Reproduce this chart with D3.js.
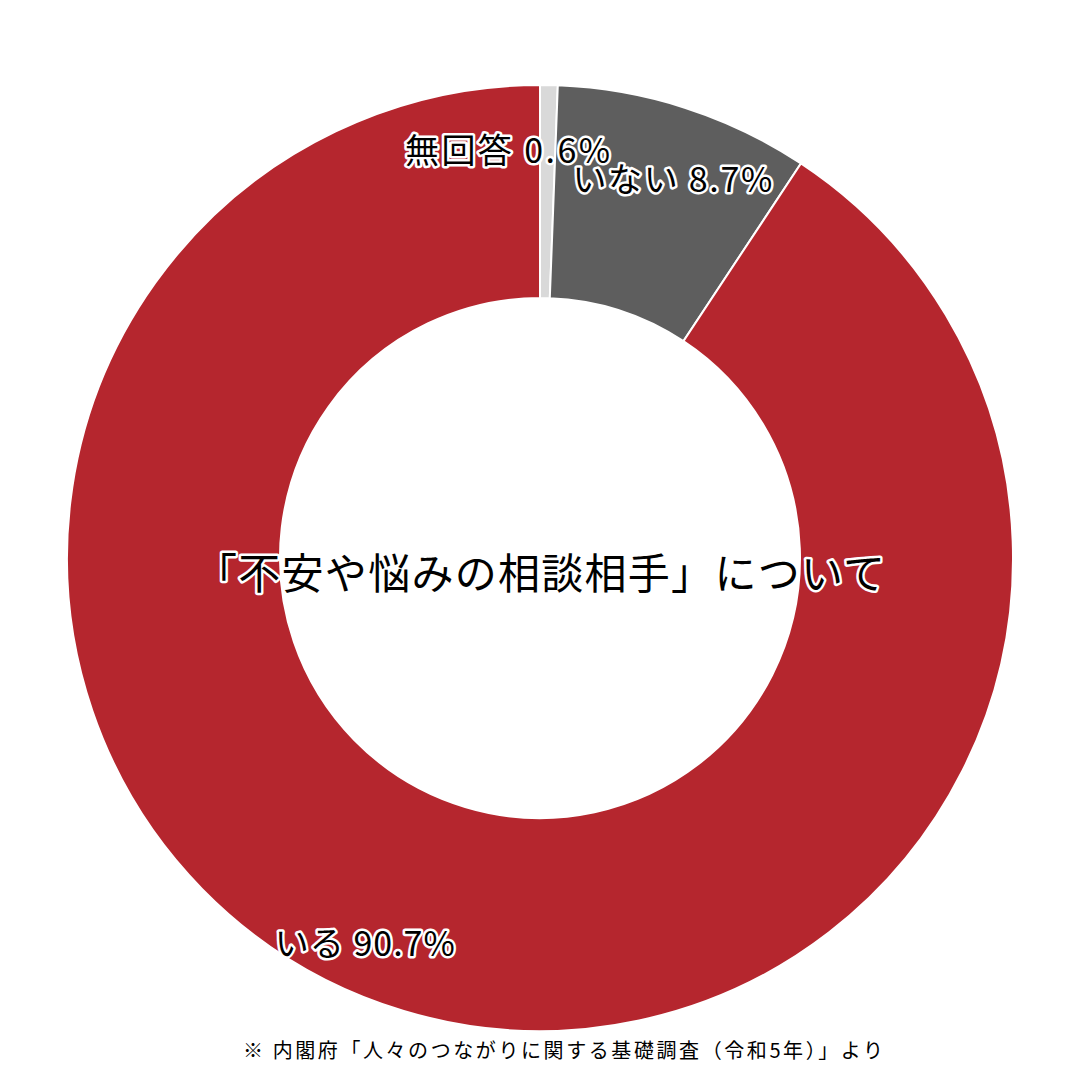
<!DOCTYPE html>
<html><head><meta charset="utf-8">
<script src="https://cdn.jsdelivr.net/npm/d3@7"></script>
<style>body{margin:0;background:#fff}</style>
</head><body>
<div class="chart"></div>
<script>
const categories = ["無回答", "いない", "いる"];
const values = [0.6, 8.7, 90.7];
const colors = ["#d9d9d9", "#5e5e5e", "#b5262e"];
const title = "「不安や悩みの相談相手」について";
const source = "※ 内閣府「人々のつながりに関する基礎調査（令和5年）」より";

const W = 1080, H = 1077, cx = 540, cy = 558, R = 473, r = 260;
const font = "'Noto Sans CJK JP', sans-serif";

const svg = d3.select(".chart").append("svg").attr("width", W).attr("height", H);
const g = svg.append("g").attr("transform", `translate(${cx},${cy})`);

const pie = d3.pie().sort(null).value(d => d)(values);
const arc = d3.arc().innerRadius(r).outerRadius(R);

g.selectAll("path").data(pie).join("path")
    .attr("d", arc)
    .attr("fill", (d, i) => colors[i])
    .attr("stroke", "#fff").attr("stroke-width", 2);

// label anchor: radial position, then a per-label nudge
const labelArc = d3.arc().innerRadius(400).outerRadius(400);
const nudge = [[-40, -10], [10, 0], [-60, 0]];

function outlined(sel) {
    sel.attr("font-family", font).attr("text-anchor", "middle")
        .attr("dominant-baseline", "central")
        .attr("fill", "#000").attr("stroke", "#fff").attr("stroke-width", 5)
        .attr("stroke-linejoin", "round").attr("paint-order", "stroke");
    return sel;
}

g.selectAll("text.lbl").data(pie).join("text")
    .attr("class", "lbl")
    .attr("x", (d, i) => labelArc.centroid(d)[0] + nudge[i][0])
    .attr("y", (d, i) => labelArc.centroid(d)[1] + nudge[i][1])
    .attr("font-size", 34)
    .attr("textLength", (d, i) => i === 0 ? 205 : i === 1 ? 200 : 180)
    .text((d, i) => `${categories[i]} ${values[i]}%`)
    .call(outlined);

g.append("text").attr("x", 0).attr("y", 12).attr("font-size", 42)
    .attr("textLength", 690)
    .text(title).call(outlined);

svg.append("text").attr("x", 563).attr("y", 1058)
    .attr("font-family", font).attr("font-size", 20).attr("text-anchor", "middle")
    .attr("textLength", 640)
    .text(source);
</script>
</body></html>
